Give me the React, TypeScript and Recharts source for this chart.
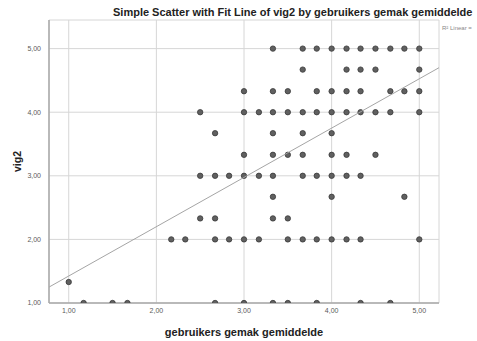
import React from 'react';
import { ScatterChart, Scatter, XAxis, YAxis, CartesianGrid, Label } from 'recharts';

// x = gebruikers gemak gemiddelde, y = vig2 (one row per vig2 level)
const row500 = [3.33, 3.67, 3.83, 4.0, 4.17, 4.33, 4.5, 4.67, 4.83, 5.0];
const row467 = [3.67, 4.17, 4.33, 4.5, 5.0];
const row433 = [3.0, 3.33, 3.5, 3.83, 4.0, 4.17, 4.33, 4.67, 4.83, 5.0];
const row400 = [2.5, 3.0, 3.17, 3.33, 3.5, 3.67, 3.83, 4.0, 4.17, 4.33, 4.5, 4.67, 5.0];
const row367 = [2.67, 3.33, 3.67, 4.0];
const row333 = [3.0, 3.33, 3.5, 3.67, 4.0, 4.17, 4.5];
const row300 = [2.5, 2.67, 2.83, 3.0, 3.17, 3.33, 3.67, 3.83, 4.0, 4.17, 4.33];
const row267 = [3.33, 4.0, 4.83];
const row233 = [2.5, 2.67, 3.33, 3.5];
const row200 = [2.17, 2.33, 2.67, 2.83, 3.0, 3.17, 3.5, 3.67, 3.83, 4.0, 4.17, 4.33, 5.0];
const row133 = [1.0];
const row100 = [1.17, 1.5, 1.67, 2.67, 3.0, 3.33, 3.5, 3.83, 4.33, 4.67];

const rows: [number, number[]][] = [
  [5.0, row500], [4.67, row467], [4.33, row433], [4.0, row400], [3.67, row367], [3.33, row333],
  [3.0, row300], [2.67, row267], [2.33, row233], [2.0, row200], [1.33, row133], [1.0, row100],
];

const points = rows.flatMap(([y, xs]) => xs.map((x) => ({ x, y })));

// fit line endpoints (edges of the plot)
const fitLine = [
  { x: 0.775, y: 1.25 },
  { x: 5.225, y: 4.7 },
];

const ticks = [1, 2, 3, 4, 5];
const fmt = (v: number) => v.toFixed(2).replace('.', ',');

const FONT = '"Liberation Sans", Arial, sans-serif';

const Dot = (props: any) => {
  const { cx, cy } = props;
  if (cx == null || cy == null) return <g />;
  return <circle cx={cx} cy={cy} r={2.7} fill="#606060" stroke="#383838" strokeWidth={0.8} />;
};

export default function App() {
  return (
    <div style={{ position: 'absolute', left: 0, top: 0, width: 477, height: 341, background: '#fff', fontFamily: FONT }}>
      <ScatterChart width={477} height={341} margin={{ top: 20, right: 38, bottom: 0, left: 0 }}>
        <CartesianGrid stroke="#d6d6d6" strokeWidth={1} />
        <XAxis
          type="number"
          dataKey="x"
          domain={[0.775, 5.225]}
          ticks={ticks}
          tickFormatter={fmt}
          allowDataOverflow
          height={38}
          tickLine={false}
          tickSize={4}
          tickMargin={1}
          stroke="#a8a8a8"
          strokeWidth={1.5}
          tick={{ fontSize: 7, fill: '#5a5a5a', fontFamily: FONT }}
        >
          <Label
            value="gebruikers gemak gemiddelde"
            position="insideBottom"
            offset={5}
            style={{ fontSize: 11, fontWeight: 'bold', fill: '#222', fontFamily: FONT }}
          />
        </XAxis>
        <YAxis
          type="number"
          dataKey="y"
          domain={[1, 5.45]}
          ticks={ticks}
          tickFormatter={fmt}
          allowDataOverflow
          width={49}
          tickLine={false}
          tickSize={4}
          tickMargin={4}
          stroke="#a8a8a8"
          strokeWidth={1.5}
          tick={{ fontSize: 7, fill: '#5a5a5a', fontFamily: FONT }}
        >
          <Label
            content={(p: any) => {
              const vb = p.viewBox || {};
              const cx = 17;
              const cy = (vb.y || 0) + (vb.height || 0) / 2;
              return (
                <text
                  x={cx}
                  y={cy}
                  transform={`rotate(-90 ${cx} ${cy})`}
                  textAnchor="middle"
                  dominantBaseline="central"
                  style={{ fontSize: 10.5, fontWeight: 'bold', fill: '#222', fontFamily: FONT }}
                >
                  vig2
                </text>
              );
            }}
          />
        </YAxis>
        <Scatter data={points} shape={<Dot />} isAnimationActive={false} />
        <Scatter
          data={fitLine}
          line={{ stroke: '#a5a5a5', strokeWidth: 1 }}
          shape={() => <g />}
          isAnimationActive={false}
        />
      </ScatterChart>
      <div
        style={{
          position: 'absolute', left: 113, top: 6, fontSize: 11, fontWeight: 'bold',
          color: '#222', whiteSpace: 'nowrap', lineHeight: '13px',
        }}
      >
        Simple Scatter with Fit Line of vig2 by gebruikers gemak gemiddelde
      </div>
      <div
        style={{
          position: 'absolute', left: 442, top: 24, fontSize: 6, color: '#888',
          whiteSpace: 'nowrap', lineHeight: '8px',
        }}
      >
        R² Linear =
      </div>
    </div>
  );
}
